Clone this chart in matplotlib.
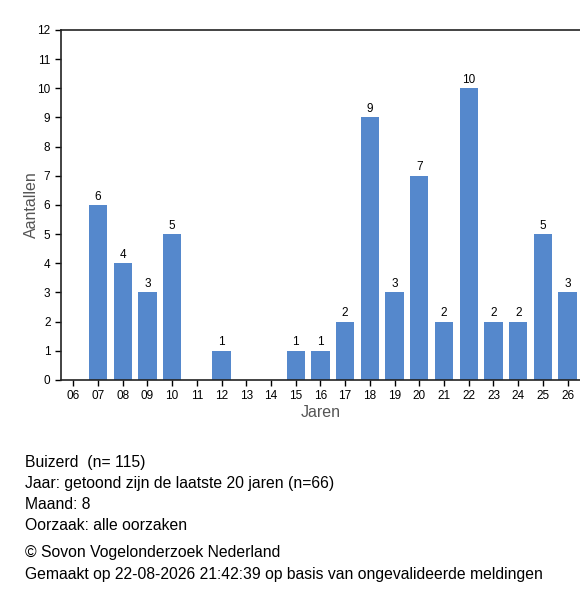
import matplotlib
matplotlib.use("Agg")
import matplotlib.pyplot as plt
import numpy as np

plt.rcParams['font.family'] = ['Liberation Sans', 'DejaVu Sans']

# data
years = ["06", "07", "08", "09", "10", "11", "12", "13", "14", "15", "16",
         "17", "18", "19", "20", "21", "22", "23", "24", "25", "26"]
counts = [0, 6, 4, 3, 5, 0, 1, 0, 0, 1, 1, 2, 9, 3, 7, 2, 10, 2, 2, 5, 3]

footer = ["Buizerd  (n= 115)",
          "Jaar: getoond zijn de laatste 20 jaren (n=66)",
          "Maand: 8",
          "Oorzaak: alle oorzaken"]
credits = ["© Sovon Vogelonderzoek Nederland",
           "Gemaakt op 22-08-2026 21:42:39 op basis van ongevalideerde meldingen"]

fig = plt.figure(figsize=(5.8, 6.0), dpi=100)
ax = fig.add_axes([0.105, 0.3667, 0.895, 0.5833])

idx = np.arange(len(years))
bars = ax.bar(idx, counts, width=0.74, color="#5588cc")
for i, v in enumerate(counts):
    if v > 0:
        ax.text(i, v + 0.08, str(v), ha="center", va="bottom", fontsize=8.5, color="black")

ax.set_xlim(-0.5, 20.5)
ax.set_ylim(0, 12)
ax.set_yticks(range(0, 13))
ax.set_xticks(idx)
ax.set_xticklabels(years)
ax.tick_params(labelsize=8.5, length=4, width=1, colors="black")
ax.spines["right"].set_visible(False)
for s in ["left", "bottom", "top"]:
    ax.spines[s].set_linewidth(1.2)
    ax.spines[s].set_color("#222222")

ax.set_xlabel("Jaren", fontsize=11.5, color="#555555", labelpad=2)
ax.set_ylabel("Aantallen", fontsize=11.5, color="#555555", labelpad=-1)

y = 463
for line in footer:
    fig.text(25 / 580, 1 - y / 600, line, fontsize=11.3, va="center", ha="left")
    y += 20.7
y = 553
for line in credits:
    fig.text(25 / 580, 1 - y / 600, line, fontsize=11.3, va="center", ha="left")
    y += 21

fig.savefig("out.png", dpi=100)
